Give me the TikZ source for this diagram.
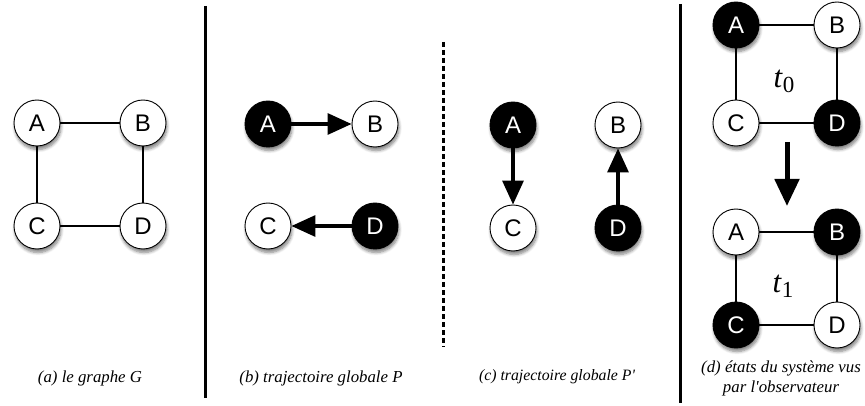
\documentclass[tikz,border=0pt]{standalone}
\usepackage{fontspec}
\setmainfont{Liberation Serif}
\newfontfamily\nodefont{Liberation Sans}
\usetikzlibrary{arrows.meta,shadows,shadows.blur}
\tikzset{
  vtx/.style={circle, draw=black, line width=0.9pt, minimum size=46pt, inner sep=0pt,
    font=\nodefont\fontsize{24}{24}\selectfont,
    blur shadow={shadow xshift=1pt, shadow yshift=-3.5pt, shadow blur radius=3pt, shadow opacity=50, shadow blur steps=6}},
  wvtx/.style={vtx, fill=white, text=black},
  bvtx/.style={vtx, fill=black, text=white},
  edge/.style={line width=1.3pt},
  bigarrow/.style={line width=3.2pt, -{Triangle[length=24pt,width=21pt]}},
  sep/.style={line width=3pt},
  dsep/.style={line width=3pt, dash pattern=on 5pt off 3pt},
  captxt/.style={font=\itshape\fontsize{16.8}{20}\selectfont, align=center},
  tlab/.style={font=\fontsize{31}{31}\selectfont}
}
\begin{document}
\begin{tikzpicture}[x=1pt,y=-1pt]
\useasboundingbox (0,0) rectangle (865,406);
% separators
\coordinate (s1t) at (205,6); \coordinate (s1b) at (205,398);
\coordinate (s2t) at (443,42); \coordinate (s2b) at (443,347);
\coordinate (s3t) at (680,4); \coordinate (s3b) at (680,403);
\draw[sep] (s1t) -- (s1b);
\draw[dsep] (s2t) -- (s2b);
\draw[sep] (s3t) -- (s3b);
% (a)
\draw[edge] (37,123) -- (143,123) -- (143,226) -- (37,226) -- cycle;
\node[wvtx] (aA) at (37,123) {A};
\node[wvtx] (aB) at (143,123) {B};
\node[wvtx] (aC) at (37,226) {C};
\node[wvtx] (aD) at (143,226) {D};
\node[captxt] (capa) at (90,378) {(a) le graphe G};
% (b)
\node[bvtx] (bA) at (268,124) {A};
\node[wvtx] (bB) at (375,124) {B};
\node[wvtx] (bC) at (268,226) {C};
\node[bvtx] (bD) at (375,226) {D};
\draw[bigarrow] (bA) -- (bB);
\draw[bigarrow] (bD) -- (bC);
\node[captxt] (capb) at (321,378) {(b) trajectoire globale P};
% (c)
\node[bvtx] (cA) at (513,125) {A};
\node[wvtx] (cB) at (618,125) {B};
\node[wvtx] (cC) at (513,228) {C};
\node[bvtx] (cD) at (618,228) {D};
\draw[bigarrow] (cA) -- (cC);
\draw[bigarrow] (cD) -- (cB);
\node[captxt, font=\itshape\fontsize{15.8}{20}\selectfont] (capc) at (557,377) {(c) trajectoire globale P\textquotesingle};
% (d) t0
\draw[edge] (736,25) -- (837,25) -- (837,123) -- (736,123) -- cycle;
\node[bvtx] (dA) at (736,25) {A};
\node[wvtx] (dB) at (837,25) {B};
\node[wvtx] (dC) at (736,123) {C};
\node[bvtx] (dD) at (837,123) {D};
\node[tlab] (t0) at (784,81) {\textit{t}\raisebox{-5pt}{\fontsize{23}{23}\selectfont 0}};
% arrow
\coordinate (arrS) at (787,142);
\coordinate (arrE) at (787,206);
\draw[line width=5pt, -{Triangle[length=27pt,width=24pt]}] (arrS) -- (arrE);
% (d) t1
\draw[edge] (736,232) -- (837,232) -- (837,325) -- (736,325) -- cycle;
\node[wvtx] (eA) at (736,232) {A};
\node[bvtx] (eB) at (837,232) {B};
\node[bvtx] (eC) at (736,325) {C};
\node[wvtx] (eD) at (837,325) {D};
\node[tlab] (t1) at (783,286) {\textit{t}\raisebox{-5pt}{\fontsize{23}{23}\selectfont 1}};
\node[captxt] (capd) at (781,378) {(d) états du système vus\\par l\textquotesingle observateur};
\end{tikzpicture}
\end{document}
